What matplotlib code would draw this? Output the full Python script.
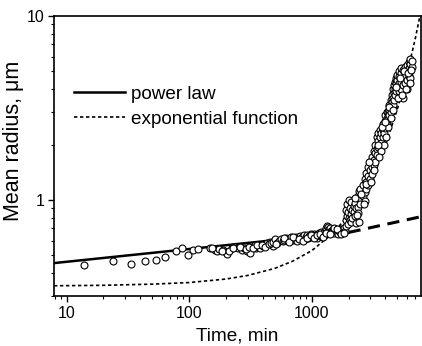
import numpy as np
import matplotlib
matplotlib.use("Agg")
import matplotlib.pyplot as plt
from matplotlib.ticker import LogLocator, NullFormatter, FixedLocator, FixedFormatter

plt.rcParams['font.family'] = ['Liberation Sans', 'DejaVu Sans']

t_early = [13.8, 23.8, 33.6, 43.6, 53.6, 63.8, 78, 88, 98, 108, 118, 148, 162, 170,
           177, 190, 200, 203, 222, 237, 250, 268, 280, 295, 314, 320, 344, 350,
           377, 400, 414, 430, 455, 480,
           155, 185, 210, 230, 260, 290, 310, 330, 360, 390, 420, 445, 470]
r_early = [0.44, 0.464, 0.449, 0.466, 0.468, 0.486, 0.526, 0.55, 0.504, 0.537, 0.541,
           0.55, 0.535, 0.53, 0.54, 0.535, 0.52, 0.507, 0.55, 0.555, 0.545, 0.535,
           0.55, 0.524, 0.513, 0.56, 0.57, 0.55, 0.546, 0.56, 0.574, 0.58, 0.593, 0.56,
           0.545, 0.525, 0.53, 0.545, 0.555, 0.54, 0.555, 0.545, 0.565, 0.57, 0.555,
           0.575, 0.585]

t_mid = [480, 500, 520, 540, 560, 580, 600, 620, 640, 660, 680, 700, 720, 740, 760,
         780, 800, 820, 840, 860, 880, 900, 920, 940, 960, 980, 1000, 1020, 1040,
         1060, 1080, 1100, 1120, 1140, 1160, 1180, 1200, 1220, 1240, 1260,
         510, 590, 650, 710, 790, 850, 910, 990, 1050, 1110, 1170, 1230]
r_mid = [0.59, 0.61, 0.585, 0.60, 0.615, 0.595, 0.605, 0.62, 0.60, 0.612, 0.625,
         0.605, 0.615, 0.63, 0.60, 0.62, 0.635, 0.61, 0.625, 0.64, 0.615, 0.63,
         0.645, 0.62, 0.635, 0.65, 0.625, 0.64, 0.655, 0.63, 0.645, 0.62, 0.65,
         0.66, 0.635, 0.645, 0.665, 0.64, 0.655, 0.67,
         0.575, 0.62, 0.59, 0.625, 0.612, 0.60, 0.618, 0.64, 0.622, 0.64, 0.652, 0.63]

t_bump = [1280, 1300, 1330, 1350, 1380, 1400, 1430, 1450, 1480, 1500, 1530, 1560,
          1600, 1630, 1660, 1700, 1730, 1760, 1800, 1830, 1860, 1900,
          1320, 1420, 1520, 1620, 1720, 1820]
r_bump = [0.68, 0.70, 0.72, 0.71, 0.69, 0.70, 0.68, 0.665, 0.69, 0.675, 0.66, 0.685,
          0.67, 0.655, 0.68, 0.665, 0.69, 0.66, 0.675, 0.70, 0.68, 0.72,
          0.66, 0.655, 0.70, 0.695, 0.65, 0.66]

t_rise = [1920, 1920, 1950, 1950, 1980, 1980, 2000, 2000, 2050, 2050,
          2100, 2100, 2100, 2150, 2150, 2200, 2200, 2250, 2250, 2300, 2300,
          2400, 2400, 2400, 2450, 2450, 2500, 2500, 2500, 2600, 2600,
          2700, 2700, 2700, 2800, 2800, 2800, 2900, 2900, 2900,
          3000, 3000, 3000, 3100, 3100, 3100, 3200, 3200, 3200,
          3300, 3300, 3300, 3400, 3400, 3400, 3500, 3500, 3500,
          3600, 3600, 3600, 3700, 3700, 3700, 3800, 3800, 3800,
          3900, 3900, 3900, 4000, 4000, 4000, 4100, 4100, 4100,
          4200, 4200, 4200, 4300, 4300, 4300, 4400, 4400, 4400,
          4500, 4500, 4500, 4600, 4600, 4600, 4700, 4700, 4700,
          4800, 4800, 4800, 4900, 4900, 4900, 5000, 5000, 5000,
          5200, 5200, 5200, 5200, 5400, 5400, 5400, 5400,
          5600, 5600, 5600, 5600, 5800, 5800, 5800,
          6000, 6000, 6000, 6000, 6200, 6200, 6200,
          6400, 6400, 6400, 6400, 6600, 6600,
          2250, 2350, 2550, 2650, 2750, 2950, 3050, 3250, 3450, 3550,
          3750, 3950, 4050, 4250, 4450, 4650, 4850, 5100, 5300, 5500,
          5700, 5900, 6100, 6300, 6500]
r_rise = [0.78, 0.88, 0.95, 0.82, 0.86, 0.74, 1.0, 0.80, 0.90, 0.78,
          0.97, 0.84, 0.76, 0.88, 0.80, 0.93, 0.86, 0.82, 0.96, 0.90, 0.75,
          1.05, 0.92, 0.85, 0.76, 1.12, 1.0, 1.15, 0.95, 1.2, 1.05,
          1.1, 1.3, 0.98, 1.25, 1.4, 1.15, 1.35, 1.2, 1.5,
          1.45, 1.6, 1.3, 1.5, 1.7, 1.38, 1.65, 1.85, 1.55,
          1.8, 2.0, 1.6, 1.9, 2.2, 1.75, 2.1, 1.95, 2.3,
          2.2, 2.0, 2.4, 2.05, 1.85, 2.3, 2.4, 2.2, 2.6,
          2.5, 2.3, 2.0, 2.7, 2.45, 2.9, 2.8, 2.6, 3.0,
          3.0, 2.75, 2.5, 3.1, 2.9, 3.3, 3.2, 3.5, 3.0,
          3.4, 3.7, 3.15, 3.6, 4.0, 3.3, 3.8, 4.2, 3.5,
          4.0, 4.4, 3.7, 4.3, 3.9, 4.6, 4.5, 4.1, 4.8,
          4.7, 4.3, 5.0, 3.9, 4.4, 4.9, 4.0, 5.2,
          4.6, 5.1, 4.2, 3.6, 4.8, 4.3, 5.3,
          5.0, 4.5, 5.4, 4.0, 5.2, 4.7, 5.6,
          5.5, 5.0, 4.6, 5.8, 5.3, 5.7,
          1.02, 0.83, 1.08, 0.95, 1.22, 1.6, 1.25, 1.45, 2.0, 1.7,
          2.5, 2.65, 2.2, 3.2, 2.8, 3.1, 4.1, 3.6, 4.6, 3.7,
          5.0, 4.0, 4.9, 4.3, 5.1]

# fitted curves, points
t_power = [7.9, 2000]
r_power = [0.453, 0.665]
t_power_ext = [2000, 7800]
r_power_ext = [0.665, 0.81]

t_exp = [7.9, 20, 50, 100, 200, 300, 500, 700, 1000, 1500, 2000, 2500, 3000,
         4000, 5000, 6000, 7000, 7800]
r_exp = [0.341, 0.343, 0.348, 0.355, 0.371, 0.388, 0.424, 0.464, 0.529, 0.661,
         0.825, 1.03, 1.28, 1.99, 3.11, 4.84, 7.52, 10.7]

t_all = t_early + t_mid + t_bump + t_rise
r_all = r_early + r_mid + r_bump + r_rise

fig = plt.figure(figsize=(4.22, 3.46), dpi=100)
ax = fig.add_axes([54 / 422, 50 / 346, 367 / 422, 280 / 346])

ax.plot(t_all, r_all, 'o', ms=5.0, mfc='white', mec='black', mew=0.8, zorder=3)
ax.plot(t_power, r_power, '-', color='black', lw=1.8, zorder=2, label='power law')
ax.plot(t_power_ext, r_power_ext, color='black', lw=2.2, dashes=(4, 2.5), zorder=2)
ax.plot(t_exp, r_exp, color='black', lw=1.2, dashes=(2, 1.6), zorder=2,
        label='exponential function')

ax.set_xscale('log')
ax.set_yscale('log')
ax.set_xlim(7.9, 7800)
ax.set_ylim(0.3, 10)

ax.xaxis.set_major_locator(FixedLocator([10, 100, 1000]))
ax.xaxis.set_major_formatter(FixedFormatter(['10', '100', '1000']))
ax.xaxis.set_minor_locator(LogLocator(base=10, subs=np.arange(2, 10)))
ax.xaxis.set_minor_formatter(NullFormatter())
ax.yaxis.set_major_locator(FixedLocator([1, 10]))
ax.yaxis.set_major_formatter(FixedFormatter(['1', '10']))
ax.yaxis.set_minor_locator(LogLocator(base=10, subs=np.arange(2, 10)))
ax.yaxis.set_minor_formatter(NullFormatter())

ax.tick_params(which='major', direction='out', length=4, width=1.0, labelsize=11.5, pad=3)
ax.tick_params(which='minor', direction='out', length=2.5, width=0.8)
for s in ax.spines.values():
    s.set_linewidth(1.2)

ax.set_xlabel('Time, min', fontsize=13.7, labelpad=5)
ax.set_ylabel('Mean radius, μm', fontsize=15.5)
ax.yaxis.set_label_coords(-0.083, 0.555)

ax.legend(loc='upper left', bbox_to_anchor=(0.055, 0.752), frameon=False,
          fontsize=13.6, handlelength=2.7, handletextpad=0.3, labelspacing=0.42,
          borderpad=0, borderaxespad=0)

fig.savefig('out.png', dpi=100)
